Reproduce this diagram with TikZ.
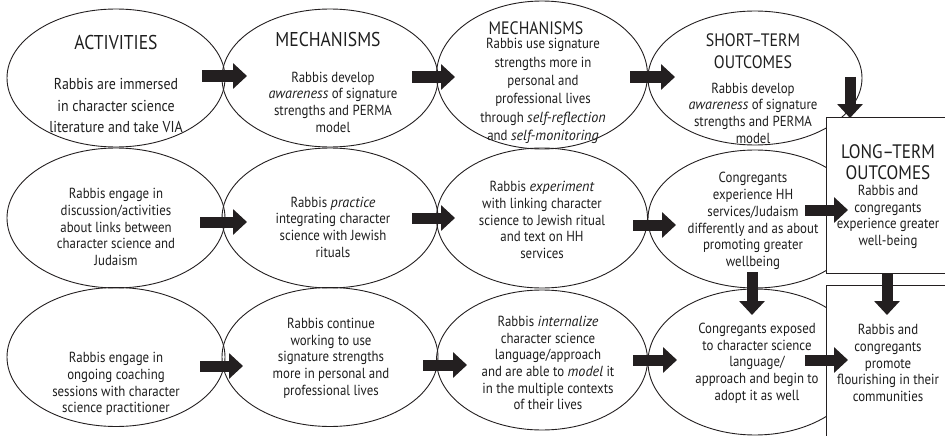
\documentclass[tikz,border=0pt]{standalone}
\usepackage{fontspec}
\setmainfont{PT Sans}[FakeStretch=0.88, ItalicFeatures={FakeStretch=0.97}]
\usetikzlibrary{shapes.geometric,arrows.meta}
\definecolor{ink}{HTML}{231F20}
\definecolor{txt}{HTML}{1E1E1E}

\begin{document}
\begin{tikzpicture}[x=1pt,y=-1pt,
  oval/.style={draw=ink, line width=0.9pt, ellipse, inner sep=0pt},
  outbox/.style={draw=ink, line width=0.9pt, fill=white, rectangle, inner sep=0pt, minimum width=160pt},
  flow/.style={draw=ink, line width=11pt, -{Triangle[width=25pt,length=14pt]}},
  head/.style={align=center, text=txt, inner sep=0pt, font=\fontsize{20}{24}\selectfont},
  subhead/.style={align=center, text=txt, inner sep=0pt, font=\fontsize{18}{22}\selectfont},
  body/.style={align=center, text=txt, inner sep=0pt, font=\fontsize{14.6}{16.7}\selectfont},
]
\useasboundingbox (0,0) rectangle (945,436);
\clip (0,0) rectangle (945,436);

% ---- stages drawn as ovals, three rows by four columns
\node[oval, minimum width=218pt, minimum height=138pt] (e11) at (116,78) {};
\node[oval, minimum width=216pt, minimum height=138pt] (e12) at (330,78) {};
\node[oval, minimum width=211pt, minimum height=148pt] (e13) at (542,75) {};
\node[oval, minimum width=214pt, minimum height=134pt] (e14) at (755,78) {};

\node[oval, minimum width=218pt, minimum height=140pt] (e21) at (116,218) {};
\node[oval, minimum width=216pt, minimum height=140pt] (e22) at (330,218) {};
\node[oval, minimum width=211pt, minimum height=140pt] (e23) at (542,218) {};
\node[oval, minimum width=214pt, minimum height=138pt] (e24) at (755,219) {};

\node[oval, minimum width=218pt, minimum height=139pt] (e31) at (116,357) {};
\node[oval, minimum width=216pt, minimum height=139pt] (e32) at (330,357) {};
\node[oval, minimum width=211pt, minimum height=140pt] (e33) at (542,360) {};
\node[oval, minimum width=214pt, minimum height=146pt] (e34) at (755,362) {};

% ---- long-term outcome boxes (open to the right edge)
\node[outbox, minimum height=156pt] (lt1) at (906,195) {};
\node[outbox, minimum height=170pt] (lt2) at (906,370) {};

% ---- arrow end points
\coordinate (r1a-s) at (202,76);  \coordinate (r1a-e) at (247,76);
\coordinate (r1b-s) at (412,77);  \coordinate (r1b-e) at (455,77);
\coordinate (r1c-s) at (630,77);  \coordinate (r1c-e) at (675,77);
\coordinate (r1d-s) at (850,77);  \coordinate (r1d-e) at (850,118);

\coordinate (r2a-s) at (200,222); \coordinate (r2a-e) at (247,222);
\coordinate (r2b-s) at (412,218); \coordinate (r2b-e) at (455,218);
\coordinate (r2c-s) at (633,225); \coordinate (r2c-e) at (676,225);
\coordinate (r2d-s) at (805,210); \coordinate (r2d-e) at (848,210);
\coordinate (v1-s) at (752,272);  \coordinate (v1-e) at (752,315);
\coordinate (v2-s) at (887,273);  \coordinate (v2-e) at (887,315);

\coordinate (r3a-s) at (200,366); \coordinate (r3a-e) at (243,366);
\coordinate (r3b-s) at (423,365); \coordinate (r3b-e) at (467,365);
\coordinate (r3c-s) at (633,360); \coordinate (r3c-e) at (677,360);
\coordinate (r3d-s) at (805,360); \coordinate (r3d-e) at (848,360);

\foreach \a in {r1a,r1b,r1c,r1d,r2a,r2b,r2c,r2d,v1,v2,r3a,r3b,r3c,r3d}
  \draw[flow] (\a-s) -- (\a-e);

% ---- row 1
\node[head] (h11) at (116,42) {ACTIVITIES};
\node[body, font=\fontsize{15.8}{21.5}\selectfont] (t11) at (116,106) {Rabbis are immersed\\in character science\\literature and take VIA};

\node[head] (h12) at (328,40) {MECHANISMS};
\node[body] (t12) at (333,102) {Rabbis develop\\\textit{awareness} of signature\\strengths and PERMA\\model};

\node[subhead] (h13) at (536,28) {MECHANISMS};
\node[body, font=\fontsize{14.6}{18.3}\selectfont] (t13) at (543,91) {Rabbis use signature\\strengths more in\\personal and\\professional lives\\through \textit{self-reflection}\\and \textit{self-monitoring}};

\node[subhead] (h14) at (753,51) {SHORT–TERM\\OUTCOMES};
\node[body] (t14) at (753,113) {Rabbis develop\\\textit{awareness} of signature\\strengths and PERMA\\model};

\node[subhead, font=\fontsize{19.5}{21}\selectfont] (hl1) at (888,162) {LONG–TERM\\OUTCOMES};
\node[body] (tl1) at (888,217) {Rabbis and\\congregants\\experience greater\\well-being};

% ---- row 2
\node[body] (t21) at (116,227) {Rabbis engage in\\discussion/activities\\about links between\\character science and\\Judaism};
\node[body] (t22) at (333,227) {Rabbis \textit{practice}\\integrating character\\science with Jewish\\rituals};
\node[body] (t23) at (542,220) {Rabbis \textit{experiment}\\with linking character\\science to Jewish ritual\\and text on HH\\services};
\node[body] (t24) at (753,221) {Congregants\\experience HH\\services/Judaism\\differently and as about\\promoting greater\\wellbeing};

% ---- row 3
\node[body] (t31) at (116,384) {Rabbis engage in\\ongoing coaching\\sessions with character\\science practitioner};
\node[body] (t32) at (331,358) {Rabbis continue\\working to use\\signature strengths\\more in personal and\\professional lives};
\node[body] (t33) at (548,363) {Rabbis \textit{internalize}\\character science\\language/approach\\and are able to \textit{model} it\\in the multiple contexts\\of their lives};
\node[body] (t34) at (757,363) {Congregants exposed\\to character science\\language/\\approach and begin to\\adopt it as well};
\node[body] (tl2) at (888,363) {Rabbis and\\congregants\\promote\\flourishing in their\\communities};
\end{tikzpicture}
\end{document}
